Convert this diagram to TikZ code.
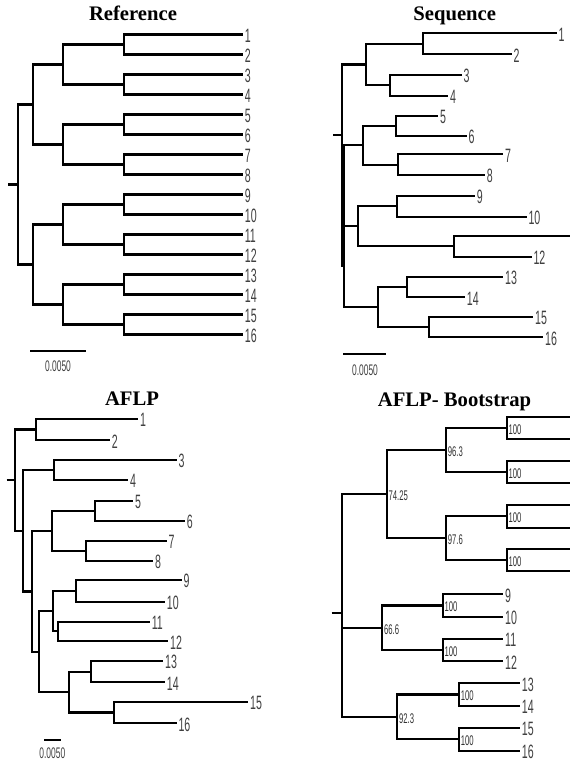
\documentclass[tikz,border=0pt]{standalone}
\usepackage{fontspec}
\setmainfont{Liberation Serif}
\newfontfamily\leaffont[FakeStretch=0.55]{Liberation Sans}
\usepackage{tikz}

\begin{document}
\begin{tikzpicture}[
			x=0.75pt,
			y=-0.75pt,
			% Tree branches
			branch/.style={
				draw=black,
				line width=1.7pt
			},
			% Taxon numbers at the leaves
			leafLabel/.style={
				anchor=west,
				inner sep=1.2pt,
				yshift=-1pt,
				text=black!75,
				font=\leaffont\fontsize{14.5}{15}\selectfont
			},
			% Bootstrap support values
			supportLabel/.style={
				anchor=west,
				inner sep=1.2pt,
				yshift=-1.2pt,
				text=black!80,
				font=\leaffont\fontsize{10.5}{11}\selectfont
			},
			scaleLabel/.style={
				inner sep=0pt,
				text=black!75,
				font=\leaffont\fontsize{11.5}{12}\selectfont
			},
			treeTitle/.style={
				anchor=base,
				inner sep=0pt,
				font=\bfseries\fontsize{15.5}{18}\selectfont
			}
			]
			
			\useasboundingbox (0,0) rectangle (570,762);
			
			% ---------------- Reference tree ----------------
			\node[treeTitle] (titleRef) at (133,20.7) {Reference};
			
			\coordinate (rL1)  at (243,34.5);
			\coordinate (rL2)  at (243,54.5);
			\coordinate (rL3)  at (243,74.5);
			\coordinate (rL4)  at (243,94.5);
			\coordinate (rL5)  at (243,114.5);
			\coordinate (rL6)  at (243,134.5);
			\coordinate (rL7)  at (243,154.5);
			\coordinate (rL8)  at (243,174.5);
			\coordinate (rL9)  at (243,194.5);
			\coordinate (rL10) at (243,214.5);
			\coordinate (rL11) at (243,234.5);
			\coordinate (rL12) at (243,254.5);
			\coordinate (rL13) at (243,274.5);
			\coordinate (rL14) at (243,294.5);
			\coordinate (rL15) at (243,314.5);
			\coordinate (rL16) at (243,334.5);
			
			\coordinate (rN12)   at (124,44.5);
			\coordinate (rN34)   at (124,84.5);
			\coordinate (rN56)   at (124,124.5);
			\coordinate (rN78)   at (124,164.5);
			\coordinate (rN910)  at (124,204.5);
			\coordinate (rN1112) at (124,244.5);
			\coordinate (rN1314) at (124,284.5);
			\coordinate (rN1516) at (124,324.5);
			\coordinate (rN14)   at (63,64.5);
			\coordinate (rN58)   at (63,144.5);
			\coordinate (rN912)  at (63,224.5);
			\coordinate (rN1316) at (63,304.5);
			\coordinate (rN18)   at (33,104.5);
			\coordinate (rN916)  at (33,264.5);
			\coordinate (rRoot)  at (18,184.5);
			\coordinate (rStub)  at (8,184.5);
			
			\draw[branch] (rN12) |- (rL1) (rN12) |- (rL2);
			\draw[branch] (rN34) |- (rL3) (rN34) |- (rL4);
			\draw[branch] (rN56) |- (rL5) (rN56) |- (rL6);
			\draw[branch] (rN78) |- (rL7) (rN78) |- (rL8);
			\draw[branch] (rN910) |- (rL9) (rN910) |- (rL10);
			\draw[branch] (rN1112) |- (rL11) (rN1112) |- (rL12);
			\draw[branch] (rN1314) |- (rL13) (rN1314) |- (rL14);
			\draw[branch] (rN1516) |- (rL15) (rN1516) |- (rL16);
			\draw[branch] (rN14) |- (rN12) (rN14) |- (rN34);
			\draw[branch] (rN58) |- (rN56) (rN58) |- (rN78);
			\draw[branch] (rN912) |- (rN910) (rN912) |- (rN1112);
			\draw[branch] (rN1316) |- (rN1314) (rN1316) |- (rN1516);
			\draw[branch] (rN18) |- (rN14) (rN18) |- (rN58);
			\draw[branch] (rN916) |- (rN912) (rN916) |- (rN1316);
			\draw[branch] (rRoot) |- (rN18) (rRoot) |- (rN916);
			\draw[branch] (rStub) -- (rRoot);
			
			\node[leafLabel] (rT1)  at (rL1)  {1};
			\node[leafLabel] (rT2)  at (rL2)  {2};
			\node[leafLabel] (rT3)  at (rL3)  {3};
			\node[leafLabel] (rT4)  at (rL4)  {4};
			\node[leafLabel] (rT5)  at (rL5)  {5};
			\node[leafLabel] (rT6)  at (rL6)  {6};
			\node[leafLabel] (rT7)  at (rL7)  {7};
			\node[leafLabel] (rT8)  at (rL8)  {8};
			\node[leafLabel] (rT9)  at (rL9)  {9};
			\node[leafLabel] (rT10) at (rL10) {10};
			\node[leafLabel] (rT11) at (rL11) {11};
			\node[leafLabel] (rT12) at (rL12) {12};
			\node[leafLabel] (rT13) at (rL13) {13};
			\node[leafLabel] (rT14) at (rL14) {14};
			\node[leafLabel] (rT15) at (rL15) {15};
			\node[leafLabel] (rT16) at (rL16) {16};
			
			% scale bar
			\coordinate (rBar1) at (30,351);
			\coordinate (rBar2) at (86,351);
			\draw[branch] (rBar1) -- (rBar2);
			\node[scaleLabel] (rBarT) at (58,366) {0.0050};
			
			% ---------------- Sequence tree ----------------
			\node[treeTitle] (titleSeq) at (454.7,20.7) {Sequence};
			
			\coordinate (sL1)  at (556.7,33.3);
			\coordinate (sL2)  at (511.7,54.3);
			\coordinate (sL3)  at (461.7,75);
			\coordinate (sL4)  at (448.3,95.7);
			\coordinate (sL5)  at (438.3,115.7);
			\coordinate (sL6)  at (466.7,135.7);
			\coordinate (sL7)  at (503.3,154.3);
			\coordinate (sL8)  at (485,175);
			\coordinate (sL9)  at (475,196);
			\coordinate (sL10) at (526.7,216.7);
			\coordinate (sL11) at (570,235.7);
			\coordinate (sL12) at (531.7,256.7);
			\coordinate (sL13) at (503.3,276.7);
			\coordinate (sL14) at (465,297.3);
			\coordinate (sL15) at (533.3,316.7);
			\coordinate (sL16) at (543.3,337.3);
			
			\coordinate (sN12)   at (423.3,43.8);
			\coordinate (sN34)   at (390,85.3);
			\coordinate (sN56)   at (396,125.7);
			\coordinate (sN78)   at (398.3,164.7);
			\coordinate (sN910)  at (396.7,206.3);
			\coordinate (sN1112) at (454.3,246.2);
			\coordinate (sN1314) at (406.7,287);
			\coordinate (sN1516) at (429.3,327);
			\coordinate (sN14)   at (366,64.5);
			\coordinate (sN58)   at (363.3,145.2);
			\coordinate (sN912)  at (357.7,226.3);
			\coordinate (sN1316) at (377.7,307);
			\coordinate (sN516)  at (344.3,226.3);
			\coordinate (sRoot)  at (341.7,135);
			\coordinate (sLow)   at (341.7,267);
			\coordinate (sStub)  at (333,135);
			
			\draw[branch] (sN12) |- (sL1) (sN12) |- (sL2);
			\draw[branch] (sN34) |- (sL3) (sN34) |- (sL4);
			\draw[branch] (sN56) |- (sL5) (sN56) |- (sL6);
			\draw[branch] (sN78) |- (sL7) (sN78) |- (sL8);
			\draw[branch] (sN910) |- (sL9) (sN910) |- (sL10);
			\draw[branch] (sN1112) |- (sL11) (sN1112) |- (sL12);
			\draw[branch] (sN1314) |- (sL13) (sN1314) |- (sL14);
			\draw[branch] (sN1516) |- (sL15) (sN1516) |- (sL16);
			\draw[branch] (sN14) |- (sN12) (sN14) |- (sN34);
			\draw[branch] (sN58) |- (sN56) (sN58) |- (sN78);
			\draw[branch] (sN912) |- (sN910) (sN912) |- (sN1112);
			\draw[branch] (sN1316) |- (sN1314) (sN1316) |- (sN1516);
			\draw[branch] (sN516) |- (sN58) (sN516) -- (sN912) (sN516) |- (sN1316);
			\draw[branch] (sRoot) |- (sN14) (sRoot) -- (sLow);
			\draw[branch] (sStub) -- (sRoot);
			
			\node[leafLabel] (sT1)  at (sL1)  {1};
			\node[leafLabel] (sT2)  at (sL2)  {2};
			\node[leafLabel] (sT3)  at (sL3)  {3};
			\node[leafLabel] (sT4)  at (sL4)  {4};
			\node[leafLabel] (sT5)  at (sL5)  {5};
			\node[leafLabel] (sT6)  at (sL6)  {6};
			\node[leafLabel] (sT7)  at (sL7)  {7};
			\node[leafLabel] (sT8)  at (sL8)  {8};
			\node[leafLabel] (sT9)  at (sL9)  {9};
			\node[leafLabel] (sT10) at (sL10) {10};
			\node[leafLabel] (sT12) at (sL12) {12};
			\node[leafLabel] (sT13) at (sL13) {13};
			\node[leafLabel] (sT14) at (sL14) {14};
			\node[leafLabel] (sT15) at (sL15) {15};
			\node[leafLabel] (sT16) at (sL16) {16};
			
			% scale bar
			\coordinate (sBar1) at (343.3,354.3);
			\coordinate (sBar2) at (385.7,354.3);
			\draw[branch] (sBar1) -- (sBar2);
			\node[scaleLabel] (sBarT) at (365,370) {0.0050};
			
			% ---------------- AFLP tree ----------------
			\node[treeTitle] (titleAflp) at (132,405.7) {AFLP};
			
			\coordinate (aL1)  at (138.3,419);
			\coordinate (aL2)  at (110,440);
			\coordinate (aL3)  at (176.7,460);
			\coordinate (aL4)  at (128.3,480);
			\coordinate (aL5)  at (133.3,500.7);
			\coordinate (aL6)  at (185,520.7);
			\coordinate (aL7)  at (166.7,540.7);
			\coordinate (aL8)  at (153.3,560.7);
			\coordinate (aL9)  at (181.7,580);
			\coordinate (aL10) at (165,601.7);
			\coordinate (aL11) at (150,621.7);
			\coordinate (aL12) at (168.3,641);
			\coordinate (aL13) at (163.3,661);
			\coordinate (aL14) at (165,682.3);
			\coordinate (aL15) at (248.3,701.7);
			\coordinate (aL16) at (176.7,723.3);
			
			\coordinate (aN12)   at (35.7,429.5);
			\coordinate (aN34)   at (54.3,470);
			\coordinate (aN56)   at (95,510.7);
			\coordinate (aN78)   at (85.7,550.7);
			\coordinate (aN910)  at (75.7,590.8);
			\coordinate (aN1112) at (57.7,631.3);
			\coordinate (aN1314) at (91,671.7);
			\coordinate (aN1516) at (114.3,712.5);
			\coordinate (aN58)   at (52.3,530.7);
			\coordinate (aN912)  at (53.3,611.2);
			\coordinate (aN1316) at (69,692.1);
			\coordinate (aN916)  at (39,652);
			\coordinate (aN516)  at (32.3,591.5);
			\coordinate (aN316)  at (23.3,530.8);
			\coordinate (aRoot)  at (15,480);
			\coordinate (aStub)  at (6.7,480);
			
			\draw[branch] (aN12) |- (aL1) (aN12) |- (aL2);
			\draw[branch] (aN34) |- (aL3) (aN34) |- (aL4);
			\draw[branch] (aN56) |- (aL5) (aN56) |- (aL6);
			\draw[branch] (aN78) |- (aL7) (aN78) |- (aL8);
			\draw[branch] (aN910) |- (aL9) (aN910) |- (aL10);
			\draw[branch] (aN1112) |- (aL11) (aN1112) |- (aL12);
			\draw[branch] (aN1314) |- (aL13) (aN1314) |- (aL14);
			\draw[branch] (aN1516) |- (aL15) (aN1516) |- (aL16);
			\draw[branch] (aN58) |- (aN56) (aN58) |- (aN78);
			\draw[branch] (aN912) |- (aN910) (aN912) |- (aN1112);
			\draw[branch] (aN1316) |- (aN1314) (aN1316) |- (aN1516);
			\draw[branch] (aN916) |- (aN912) (aN916) |- (aN1316);
			\draw[branch] (aN516) |- (aN58) (aN516) |- (aN916);
			\draw[branch] (aN316) |- (aN34) (aN316) |- (aN516);
			\draw[branch] (aRoot) |- (aN12) (aRoot) |- (aN316);
			\draw[branch] (aStub) -- (aRoot);
			
			\node[leafLabel] (aT1)  at (aL1)  {1};
			\node[leafLabel] (aT2)  at (aL2)  {2};
			\node[leafLabel] (aT3)  at (aL3)  {3};
			\node[leafLabel] (aT4)  at (aL4)  {4};
			\node[leafLabel] (aT5)  at (aL5)  {5};
			\node[leafLabel] (aT6)  at (aL6)  {6};
			\node[leafLabel] (aT7)  at (aL7)  {7};
			\node[leafLabel] (aT8)  at (aL8)  {8};
			\node[leafLabel] (aT9)  at (aL9)  {9};
			\node[leafLabel] (aT10) at (aL10) {10};
			\node[leafLabel] (aT11) at (aL11) {11};
			\node[leafLabel] (aT12) at (aL12) {12};
			\node[leafLabel] (aT13) at (aL13) {13};
			\node[leafLabel] (aT14) at (aL14) {14};
			\node[leafLabel] (aT15) at (aL15) {15};
			\node[leafLabel] (aT16) at (aL16) {16};
			
			% scale bar
			\coordinate (aBar1) at (44.3,740);
			\coordinate (aBar2) at (61,740);
			\draw[branch] (aBar1) -- (aBar2);
			\node[scaleLabel] (aBarT) at (52.3,753.3) {0.0050};
			
			% ---------------- AFLP bootstrap tree ----------------
			\node[treeTitle] (titleBoot) at (454.5,406.2) {AFLP- Bootstrap};
			
			\coordinate (bL1)  at (570,416.7);
			\coordinate (bL2)  at (570,439);
			\coordinate (bL3)  at (570,461);
			\coordinate (bL4)  at (570,482.7);
			\coordinate (bL5)  at (570,505);
			\coordinate (bL6)  at (570,527.7);
			\coordinate (bL7)  at (570,549.3);
			\coordinate (bL8)  at (570,571);
			\coordinate (bL9)  at (503.3,594.3);
			\coordinate (bL10) at (503.3,616.7);
			\coordinate (bL11) at (503.3,639);
			\coordinate (bL12) at (503.3,661);
			\coordinate (bL13) at (520,683.3);
			\coordinate (bL14) at (520,705.7);
			\coordinate (bL15) at (520,727.7);
			\coordinate (bL16) at (520,751);
			
			\coordinate (bN12)   at (506.7,427.8);
			\coordinate (bN34)   at (506.7,471.8);
			\coordinate (bN56)   at (506.7,516.3);
			\coordinate (bN78)   at (506.7,560.2);
			\coordinate (bN910)  at (442.7,605.5);
			\coordinate (bN1112) at (442.7,650);
			\coordinate (bN1314) at (459,694.5);
			\coordinate (bN1516) at (459,739.3);
			\coordinate (bN14)   at (446,449.8);
			\coordinate (bN58)   at (446,538.3);
			\coordinate (bN18)   at (386.7,494);
			\coordinate (bN912)  at (382.3,627.7);
			\coordinate (bN1316) at (397.3,717);
			\coordinate (bRoot)  at (341.7,612.7);
			\coordinate (bStub)  at (331.7,612.7);
			
			\draw[branch] (bN12) |- (bL1) (bN12) |- (bL2);
			\draw[branch] (bN34) |- (bL3) (bN34) |- (bL4);
			\draw[branch] (bN56) |- (bL5) (bN56) |- (bL6);
			\draw[branch] (bN78) |- (bL7) (bN78) |- (bL8);
			\draw[branch] (bN910) |- (bL9) (bN910) |- (bL10);
			\draw[branch] (bN1112) |- (bL11) (bN1112) |- (bL12);
			\draw[branch] (bN1314) |- (bL13) (bN1314) |- (bL14);
			\draw[branch] (bN1516) |- (bL15) (bN1516) |- (bL16);
			\draw[branch] (bN14) |- (bN12) (bN14) |- (bN34);
			\draw[branch] (bN58) |- (bN56) (bN58) |- (bN78);
			\draw[branch] (bN18) |- (bN14) (bN18) |- (bN58);
			\draw[branch] (bN912) |- (bN910) (bN912) |- (bN1112);
			\draw[branch] (bN1316) |- (bN1314) (bN1316) |- (bN1516);
			\draw[branch] (bRoot) |- (bN18) (bRoot) |- (bN912);
			\draw[branch] (bRoot) |- (bN1316);
			\draw[branch] (bStub) -- (bRoot);
			
			\node[leafLabel] (bT9)  at (bL9)  {9};
			\node[leafLabel] (bT10) at (bL10) {10};
			\node[leafLabel] (bT11) at (bL11) {11};
			\node[leafLabel] (bT12) at (bL12) {12};
			\node[leafLabel] (bT13) at (bL13) {13};
			\node[leafLabel] (bT14) at (bL14) {14};
			\node[leafLabel] (bT15) at (bL15) {15};
			\node[leafLabel] (bT16) at (bL16) {16};
			
			% support values
			\node[supportLabel] (bS12)   at (bN12)   {100};
			\node[supportLabel] (bS34)   at (bN34)   {100};
			\node[supportLabel] (bS56)   at (bN56)   {100};
			\node[supportLabel] (bS78)   at (bN78)   {100};
			\node[supportLabel] (bS14)   at (bN14)   {96.3};
			\node[supportLabel] (bS58)   at (bN58)   {97.6};
			\node[supportLabel] (bS18)   at (bN18)   {74.25};
			\node[supportLabel] (bS910)  at (bN910)  {100};
			\node[supportLabel] (bS1112) at (bN1112) {100};
			\node[supportLabel] (bS912)  at (bN912)  {66.6};
			\node[supportLabel] (bS1314) at (bN1314) {100};
			\node[supportLabel] (bS1516) at (bN1516) {100};
			\node[supportLabel] (bS1316) at (bN1316) {92.3};
			
		\end{tikzpicture}
\end{document}
